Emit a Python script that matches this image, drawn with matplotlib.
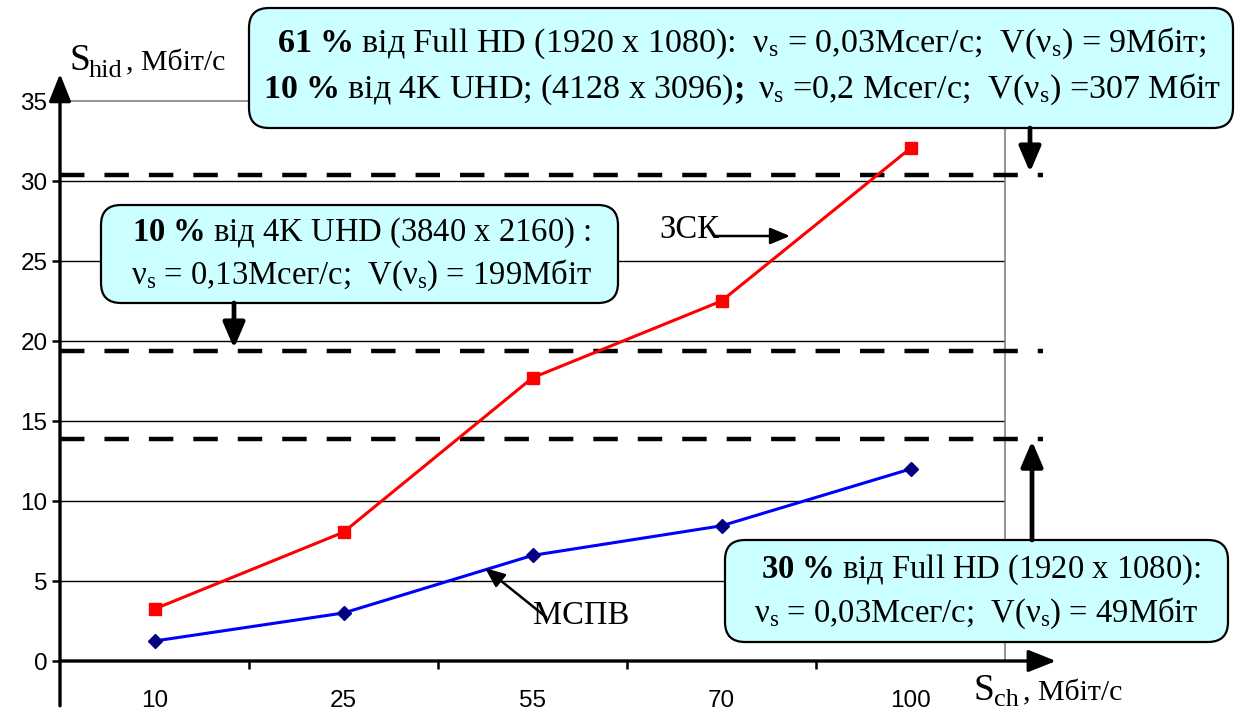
import numpy as np
import matplotlib.pyplot as plt
from matplotlib.patches import FancyBboxPatch
from matplotlib.transforms import blended_transform_factory

plt.rcParams['font.family'] = ['Liberation Serif', 'DejaVu Serif']
plt.rcParams['mathtext.fontset'] = 'custom'
plt.rcParams['mathtext.rm'] = 'Liberation Serif'
plt.rcParams['mathtext.it'] = 'Liberation Serif:italic'
plt.rcParams['mathtext.bf'] = 'Liberation Serif:bold'

# ----- data -----
categories = ['10', '25', '55', '70', '100']
zsk = [3.25, 8.05, 17.7, 22.5, 32.05]     # ЗСК
mspv = [1.25, 3.0, 6.6, 8.45, 12.0]       # МСПВ
levels = [30.4, 19.4, 13.9]               # пороги (пунктир)
yticks = [0, 5, 10, 15, 20, 25, 30, 35]

W, H = 1235, 711
fig = plt.figure(figsize=(W / 100, H / 100), dpi=100)
ax = fig.add_axes([60 / W, 50 / H, 945 / W, 560 / H])
ov = fig.add_axes([0, 0, 1, 1])
ov.set_xlim(0, W); ov.set_ylim(H, 0)
ov.axis('off'); ov.patch.set_visible(False)
ov.set_zorder(5)

x = np.arange(len(categories)) + 0.5
ax.set_xlim(0, len(categories))
ax.set_ylim(0, 35)

# сітка
for yv in yticks[1:-1]:
    ax.axhline(yv, color='black', lw=1.0, zorder=1)
for s in ['left', 'bottom']:
    ax.spines[s].set_visible(False)
for s in ['top', 'right']:
    ax.spines[s].set_color('#808080')
    ax.spines[s].set_linewidth(1.2)

# осі зі стрілками
arr = dict(arrowstyle='-|>,head_length=0.7,head_width=0.28', lw=2.4, color='black',
           mutation_scale=24, shrinkA=0, shrinkB=0)
ax.annotate('', xy=(0, 36.7), xytext=(0, -2.8), arrowprops=arr, annotation_clip=False)
ax.annotate('', xy=(5.27, 0), xytext=(0, 0), arrowprops=arr, annotation_clip=False)

ax.set_yticks(yticks)
ax.set_yticklabels([str(v) for v in yticks], family='Liberation Sans', fontsize=17.5)
ax.tick_params(axis='y', direction='out', length=6, width=1.8, pad=3)
ax.set_xticks([1, 2, 3, 4])
ax.set_xticklabels([])
ax.tick_params(axis='x', direction='out', length=6, width=1.8)
ax.set_xticks(x, minor=True)
ax.set_xticklabels(categories, minor=True, family='Liberation Sans', fontsize=17.5)
ax.tick_params(axis='x', which='minor', length=0, pad=21)

# пунктирні рівні
for lv in levels:
    ax.plot([0, 5.2], [lv, lv], color='black', lw=3.2, ls=(0, (5.5, 4.5)),
            clip_on=False, zorder=3, solid_capstyle='butt')

# криві
ax.plot(x, zsk, color='#FF0000', lw=2.2, marker='s', ms=8, mfc='#FF0000', mec='#FF0000',
        zorder=4, clip_on=False)
ax.plot(x, mspv, color='#0000FF', lw=2.2, marker='D', ms=7, mfc='#000080', mec='#000080',
        zorder=4, clip_on=False)

# підписи осей
ov.text(69, 70, 'S', fontsize=27, va='baseline')
ov.text(89, 77, 'hid', fontsize=19, va='baseline')
ov.text(126, 70, ', Мбіт/с', fontsize=21.5, va='baseline')
ov.text(974, 700, 'S', fontsize=27, va='baseline')
ov.text(994, 706, 'ch', fontsize=19, va='baseline')
ov.text(1023, 700, ', Мбіт/с', fontsize=21.5, va='baseline')

# виноски
boxfc = '#CCFFFF'
boxes = [(249, 8, 984, 120), (101, 205, 517, 98), (725, 540, 503, 102)]
for bx, by, bw, bh in boxes:
    ov.add_patch(FancyBboxPatch((bx, by), bw, bh, boxstyle='round,pad=0,rounding_size=20',
                                fc=boxfc, ec='black', lw=1.6))

fs = 23.5
sub = r'ν$_\mathrm{s}$'
ov.text(742, 52, r'$\mathbf{61\ \%}$ від Full HD (1920 x 1080):  ' + sub + ' = 0,03Мсег/с;  V(' + sub + ') = 9Мбіт;',
        ha='center', va='baseline', fontsize=24.5)
ov.text(742, 98, r'$\mathbf{10\ \%}$ від 4K UHD; (4128 x 3096)$\mathbf{;}$ ' + sub + ' =0,2 Мсег/с;  V(' + sub + ') =307 Мбіт',
        ha='center', va='baseline', fontsize=24.5)
ov.text(361, 241, r'$\mathbf{10\ \%}$ від 4K UHD (3840 x 2160) :', ha='center', va='baseline', fontsize=fs)
ov.text(361, 284, sub + ' = 0,13Мсег/с;  V(' + sub + ') = 199Мбіт', ha='center', va='baseline', fontsize=fs)
ov.text(981, 578, r'$\mathbf{30\ \%}$ від Full HD (1920 x 1080):', ha='center', va='baseline', fontsize=fs)
ov.text(976, 622, sub + ' = 0,03Мсег/с;  V(' + sub + ') = 49Мбіт', ha='center', va='baseline', fontsize=fs)

# стрілки від виносок до рівнів
bt = blended_transform_factory(ov.transData, ax.transData)
big = dict(arrowstyle='-|>,head_length=0.7,head_width=0.3', lw=3.4, color='black',
           mutation_scale=22, shrinkA=0, shrinkB=0)
ov.annotate('', xy=(1030, levels[0] + 0.15), xycoords=bt, xytext=(1030, 128), textcoords='data',
            arrowprops=big)
ov.annotate('', xy=(234, levels[1] + 0.15), xycoords=bt, xytext=(234, 303), textcoords='data',
            arrowprops=big)
ov.annotate('', xy=(1032, levels[2] - 0.15), xycoords=bt, xytext=(1032, 540), textcoords='data',
            arrowprops=big)

# підписи кривих
ov.text(659, 238, 'ЗСК', fontsize=fs, va='baseline')
thin = dict(arrowstyle='-|>,head_length=0.6,head_width=0.25', lw=1.8, color='black',
            mutation_scale=20, shrinkA=0, shrinkB=0)
ov.annotate('', xy=(790, 236), xytext=(714, 236), arrowprops=thin)
ov.text(533, 624, 'МСПВ', fontsize=fs, va='baseline')
ov.annotate('', xy=(485, 568), xytext=(546, 617), arrowprops=thin)

fig.savefig('out.png', dpi=100)
